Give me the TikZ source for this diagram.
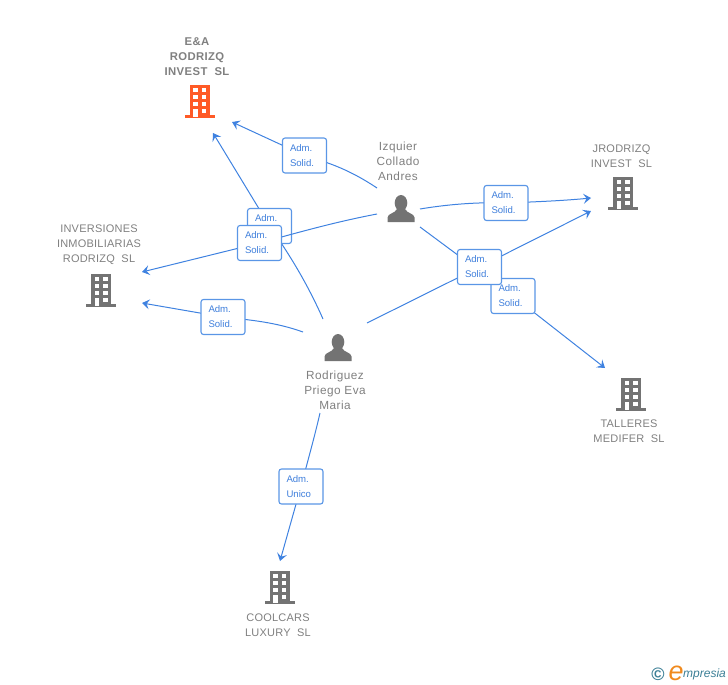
\documentclass[tikz,border=0pt]{standalone}
\usepackage{fontspec}
\setmainfont{Liberation Sans}
\newfontfamily\spacedA[LetterSpace=4]{Liberation Sans}
\newfontfamily\spacedB[LetterSpace=2]{Liberation Sans}
\newfontfamily\spacedC[LetterSpace=3.5,BoldFont={Liberation Sans Bold}]{Liberation Sans}
\usetikzlibrary{arrows.meta}
\definecolor{linkblue}{HTML}{3F82E0}
\definecolor{boxblue}{HTML}{5A96E6}
\definecolor{txtblue}{HTML}{3F7FDC}
\definecolor{graytxt}{HTML}{808080}
\definecolor{iconhue}{HTML}{737373}
\definecolor{orangeic}{HTML}{FF5A26}
\definecolor{logoteal}{HTML}{3C7F96}
\definecolor{logoor}{HTML}{F08A1E}
\tikzset{
  x=1pt,y=-1pt,
  link/.style={draw=linkblue,line width=1pt},
  linkarrow/.style={link,-{Stealth[length=7.5pt,width=10pt,inset=3pt]}},
  relbox/.style={draw=boxblue,line width=1.1pt,fill=white,rounded corners=2.5pt,minimum width=44pt,minimum height=35pt,inner sep=0pt,align=left,text=txtblue,font=\fontsize{9.6}{15}\selectfont,text width=29pt},
  nmtext/.style={align=center,text=graytxt,font=\spacedA\fontsize{11.8}{15}\selectfont,inner sep=0pt},
  cname/.style={nmtext,font=\spacedB\fontsize{11}{15}\selectfont},
  bname/.style={nmtext,font=\spacedC\bfseries\fontsize{11.3}{15}\selectfont},
  building/.pic={
    \fill[pic actions] (-10,-17) rectangle (10,15);
    \fill[pic actions] (-15,13) rectangle (15,16);
    \foreach \yy in {-14,-7,0}{
      \fill[white] (-6.5,\yy) rectangle (-2,\yy+4);
      \fill[white] (2,\yy) rectangle (6.5,\yy+4);
    }
    \fill[white] (-6.5,7) rectangle (-2,15);
    \fill[white] (2,7) rectangle (6.5,11);
  },
  person/.pic={
    \fill[iconhue] (0,-6) ellipse (6.3 and 8);
    \fill[iconhue] (-13.5,13) -- (-13.5,8.5) .. controls (-13.5,4.5) and (-6,4.5) .. (-4,0) -- (4,0) .. controls (6,4.5) and (13.5,4.5) .. (13.5,8.5) -- (13.5,13) -- cycle;
  }
}
\begin{document}
\begin{tikzpicture}
\useasboundingbox (0,0) rectangle (728,685);
% icons
\path (199.5,102) pic[fill=orangeic] {building};
\path (623,194) pic[fill=iconhue] {building};
\path (101,291) pic[fill=iconhue] {building};
\path (631,395) pic[fill=iconhue] {building};
\path (279.5,588) pic[fill=iconhue] {building};
\path (401,209) pic {person};
\path (338,348) pic {person};
% names
\node[bname] (ea) at (197,57) {E\&A\\RODRIZQ\\INVEST\ \ SL};
\node[cname] (jr) at (621.5,156.5) {JRODRIZQ\\INVEST\ \ SL};
\node[cname] (inv) at (99,245) {INVERSIONES\\INMOBILIARIAS\\RODRIZQ\ \ SL};
\node[cname] (tal) at (629,431) {TALLERES\\MEDIFER\ \ SL};
\node[cname] (coo) at (278,625) {COOLCARS\\LUXURY\ \ SL};
\node[nmtext] (izq) at (398,161) {Izquier\\Collado\\Andres};
\node[nmtext] (rod) at (335,390) {Rodriguez\\Priego Eva\\Maria};
% connector ends
\coordinate (izqA) at (377,188);
\coordinate (izqB) at (377,214);
\coordinate (izqC) at (420,209);
\coordinate (izqD) at (420,227);
\coordinate (rodA) at (323,319);
\coordinate (rodB) at (303,332);
\coordinate (rodC) at (367,323);
\coordinate (rodD) at (320,413);
\coordinate (eaA) at (232,122);
\coordinate (eaB) at (213,133);
\coordinate (invA) at (142,272);
\coordinate (invB) at (142,303);
\coordinate (jrA) at (591,198);
\coordinate (jrB) at (591,211);
\coordinate (talA) at (605,368);
\coordinate (cooA) at (280,561);
% boxes positions
\coordinate (b1p) at (304.5,155.5);
\coordinate (b2p) at (269.5,226);
\coordinate (b3p) at (259.5,243);
\coordinate (b4p) at (223,317);
\coordinate (b5p) at (506,203);
\coordinate (b6p) at (479.5,267);
\coordinate (b7p) at (513,296);
\coordinate (b8p) at (301,486.5);
% connectors
\draw[linkarrow] (izqA) .. controls (350,170) and (330,163) .. (b1p) -- (eaA);
\draw[linkarrow] (rodA) .. controls (308,285) and (290,255) .. (b2p) -- (eaB);
\node[relbox] (b2) at (b2p) {Adm.\\Solid.};
\draw[linkarrow] (izqB) .. controls (335,222) and (300,232) .. (b3p) -- (invA);
\draw[linkarrow] (rodB) .. controls (275,322) and (250,320) .. (b4p) -- (invB);
\draw[linkarrow] (izqC) .. controls (450,204) and (480,202) .. (b5p) .. controls (530,202) and (560,201) .. (jrA);
\draw[linkarrow] (rodC) -- (b6p) -- (jrB);
\draw[linkarrow] (izqD) -- (b7p) -- (talA);
\draw[linkarrow] (rodD) .. controls (315,435) and (308,460) .. (b8p) -- (cooA);
% boxes
\node[relbox] (b1) at (b1p) {Adm.\\Solid.};
\node[relbox] (b3) at (b3p) {Adm.\\Solid.};
\node[relbox] (b4) at (b4p) {Adm.\\Solid.};
\node[relbox] (b5) at (b5p) {Adm.\\Solid.};
\node[relbox] (b7) at (b7p) {Adm.\\Solid.};
\node[relbox] (b6) at (b6p) {Adm.\\Solid.};
\node[relbox] (b8) at (b8p) {Adm.\\Unico};
% logo
\node[inner sep=0pt,text=logoteal,font=\bfseries\fontsize{18}{18}\selectfont] (copy) at (658,674) {©};
\node[inner sep=0pt,text=logoor,font=\itshape\fontsize{27}{27}\selectfont] (loge) at (676,673) {e};
\node[inner sep=0pt,text=logoteal,anchor=west,font=\itshape\fontsize{12}{12}\selectfont] (logt) at (683,674) {mpresia};
\end{tikzpicture}
\end{document}
